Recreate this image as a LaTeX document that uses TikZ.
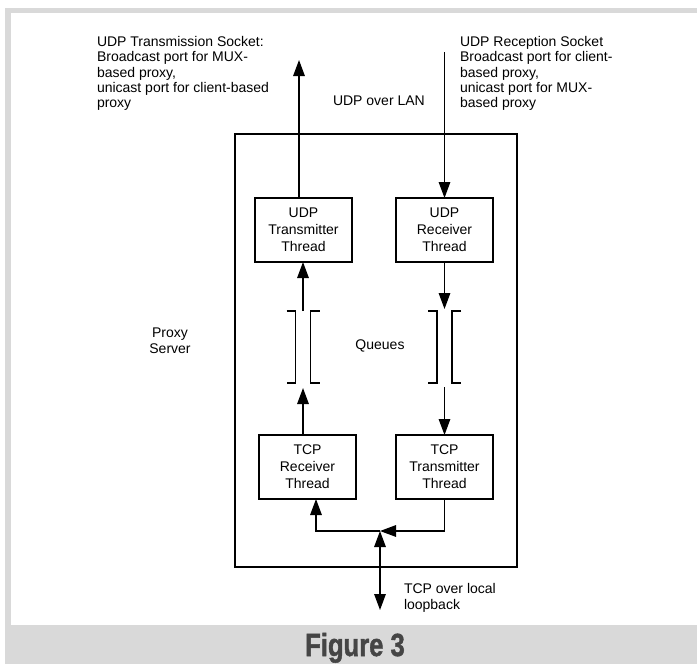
\documentclass[tikz,border=0pt]{standalone}
\usepackage{fontspec}
\usepackage{graphicx}
\setmainfont{Liberation Sans}
\newfontfamily\capfont[BoldFeatures={FakeBold=1.6}]{Liberation Sans}
\usetikzlibrary{arrows.meta}
\definecolor{framegray}{HTML}{D9D9D9}
\definecolor{captiongray}{HTML}{454545}

\begin{document}
\begin{tikzpicture}[x=1pt,y=-1pt,
  lbl/.style={font=\fontsize{14}{15.3}\selectfont, inner sep=0pt, outer sep=0pt},
  thread/.style={draw, line width=1.4pt, minimum width=97pt, minimum height=64pt,
    align=center, inner sep=0pt, outer sep=0pt, font=\fontsize{14}{17}\selectfont},
  queuebox/.style={minimum width=15pt, minimum height=72pt, inner sep=0pt, outer sep=0pt},
  tip/.tip={Triangle[length=16pt,width=11.5pt]},
  link/.style={line width=1.5pt, -tip},
  duplex/.style={line width=1.5pt, tip-tip},
  bracket/.style={line width=1.4pt},
]
% page frame: grey border with white panel and caption band
\fill[white] (0,0) rectangle (697,664);
\fill[framegray] (5,8) rectangle (697,664);
\fill[white] (11,13) rectangle (697,625);
\useasboundingbox (0,0) rectangle (697,664);

% proxy server enclosure
\node[draw, line width=1.4pt, minimum width=282pt, minimum height=433pt,
      inner sep=0pt, outer sep=0pt] (proxy) at (376,350.5) {};

% worker threads
\node[thread] (udptx) at (303.5,230) {UDP\\Transmitter\\Thread};
\node[thread] (udprx) at (444.5,230) {UDP\\Receiver\\Thread};
\node[thread] (tcprx) at (307.5,467) {TCP\\Receiver\\Thread};
\node[thread] (tcptx) at (444.5,467) {TCP\\Transmitter\\Thread};

% queues drawn as facing brackets
\node[queuebox] (qtx) at (303,347) {};
\node[queuebox] (qrx) at (444.5,347) {};
\foreach \q in {qtx,qrx}{
  \draw[bracket] ([xshift=-9pt]\q.north west) -- (\q.north west) -- (\q.south west) -- ([xshift=-9pt]\q.south west);
  \draw[bracket] ([xshift=9pt]\q.north east) -- (\q.north east) -- (\q.south east) -- ([xshift=9pt]\q.south east);
}

% UDP sockets
\coordinate (txout) at (299,60);
\coordinate (rxin) at (444.5,52);
\draw[link] (udptx.north -| txout) -- (txout);
\draw[link] (rxin) -- (udprx.north);

% queue traffic
\draw[link] (qtx.north) -- (qtx.north |- udptx.south);
\draw[link, shorten >=2pt] (udprx.south) -- (qrx.north);
\draw[link, shorten >=5pt] (tcprx.north -| qtx.south) -- (qtx.south);
\draw[link, shorten <=4pt] (qrx.south) -- (tcptx.north);

% local loopback junction
\coordinate (jn) at (380,531);
\coordinate (lb) at (380,610);
\draw[link] (tcptx.south) |- (jn);
\draw[link] (jn) -| ([xshift=8.5pt]tcprx.south);
\draw[duplex] (lb) -- (jn);

% labels
\node[lbl, anchor=north west, align=left] (txsock) at (97,36.3)
  {UDP Transmission Socket:\\Broadcast port for MUX-\\based proxy,\\unicast port for client-based\\proxy};
\node[lbl, anchor=north west, align=left] (rxsock) at (460,36.3)
  {UDP Reception Socket\\Broadcast port for client-\\based proxy,\\unicast port for MUX-\\based proxy};
\node[lbl, anchor=base west] (lan) at (333,105) {UDP over LAN};
\node[lbl, anchor=north, align=center, font=\fontsize{14}{16}\selectfont] (srv) at (170,328) {Proxy\\Server};
\node[lbl, anchor=base] (queues) at (380,349) {Queues};
\node[lbl, anchor=north west, align=left, font=\fontsize{14}{16.5}\selectfont] (tcpl) at (404,583) {TCP over local\\loopback};

% caption
\node[font=\capfont\fontsize{32}{32}\selectfont\bfseries, text=captiongray, anchor=base,
      inner sep=0pt] (caption) at (355,656) {\scalebox{0.8}[1]{Figure 3}};
\end{tikzpicture}
\end{document}
